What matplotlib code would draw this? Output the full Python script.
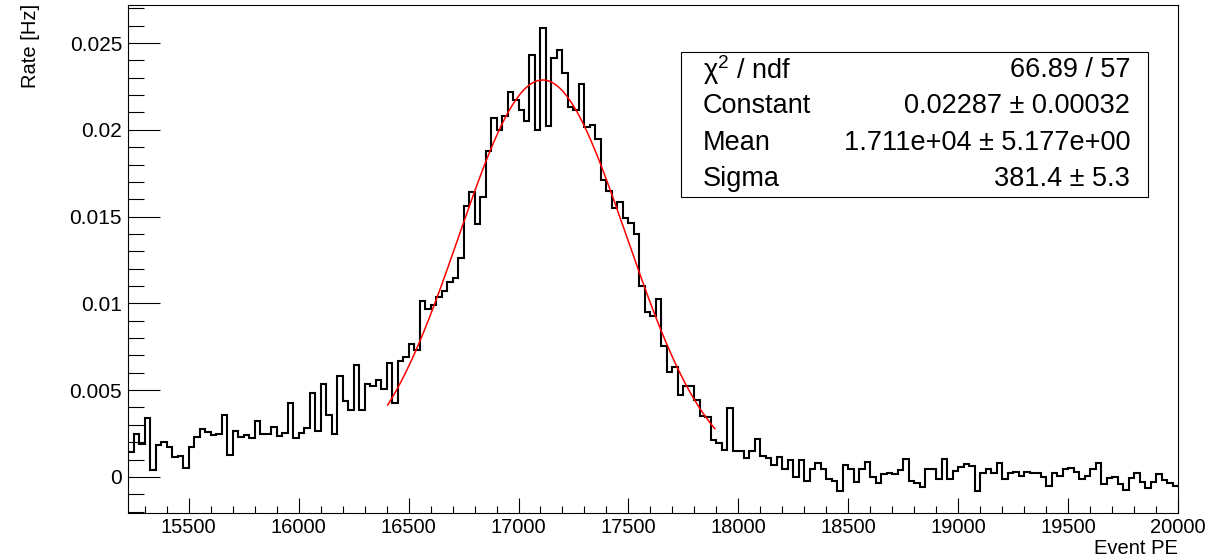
import numpy as np
import matplotlib
matplotlib.use('Agg')
from matplotlib import pyplot as plt
from matplotlib.ticker import MultipleLocator, FuncFormatter
from matplotlib.patches import Rectangle

# histogram binning (Event PE)
bin_lo = 15225
bin_width = 25

# rate per bin [Hz]
rate = [
    0.00146, 0.00248, 0.00188, 0.00338, 0.00040, 0.00185, 0.00204, 0.00171, 0.00113, 0.00121,
    0.00050, 0.00171, 0.00229, 0.00275, 0.00258, 0.00242, 0.00248, 0.00358, 0.00125, 0.00267,
    0.00229, 0.00242, 0.00227, 0.00323, 0.00246, 0.00246, 0.00290, 0.00233, 0.00252, 0.00425,
    0.00223, 0.00252, 0.00281, 0.00483, 0.00265, 0.00535, 0.00358, 0.00248, 0.00584, 0.00438,
    0.00383, 0.00642, 0.00386, 0.00535, 0.00521, 0.00559, 0.00506, 0.00659, 0.00425, 0.00669,
    0.00690, 0.00767, 0.00729, 0.01011, 0.00969, 0.00988, 0.01036, 0.01069, 0.01123, 0.01149,
    0.01259, 0.01559, 0.01640, 0.01459, 0.01611, 0.01880, 0.02069, 0.01997, 0.02082, 0.02216,
    0.02174, 0.02113, 0.02049, 0.02430, 0.02001, 0.02584, 0.02020, 0.02415, 0.02457, 0.02328,
    0.02132, 0.02117, 0.02266, 0.02017, 0.02026, 0.01947, 0.01713, 0.01645, 0.01550, 0.01584,
    0.01492, 0.01463, 0.01401, 0.01098, 0.00953, 0.00928, 0.01025, 0.00752, 0.00602, 0.00636,
    0.00473, 0.00525, 0.00525, 0.00444, 0.00352, 0.00348, 0.00213, 0.00194, 0.00156, 0.00396,
    0.00152, 0.00152, 0.00108, 0.00152, 0.00217, 0.00121, 0.00108, 0.00069, 0.00117, 0.00044,
    0.00098, 0.00002, 0.00098, -0.00021, 0.00044, 0.00083, 0.00044, -0.00013, -0.00021, -0.00079,
    0.00069, 0.00044, -0.00027, 0.00044, 0.00088, 0.00002, -0.00036, 0.00017, 0.00021, 0.00015,
    0.00042, 0.00102, -0.00023, -0.00037, -0.00056, 0.00046, 0.00046, -0.00012, 0.00102, -0.00013,
    0.00035, 0.00060, 0.00073, 0.00065, -0.00079, 0.00021, 0.00046, 0.00021, 0.00079, -0.00013,
    0.00021, 0.00027, 0.00006, 0.00027, 0.00021, 0.00021, -0.00002, -0.00052, 0.00021, 0.00006,
    0.00044, 0.00054, 0.00031, -0.00013, 0.00006, 0.00044, 0.00079, -0.00042, -0.00008, 0.00002,
    -0.00042, -0.00075, -0.00008, 0.00021, -0.00031, -0.00062, -0.00031, 0.00015, -0.00017, -0.00033,
    -0.00050,
]

# gaussian fit result, as printed in the stat box
fit_const = 0.02287
fit_mean = 17110.0
fit_sigma = 381.4
fit_range = (16405, 17893)

stat_names = [r'$\chi^{2}$ / ndf', 'Constant', 'Mean', 'Sigma']
stat_values = ['66.89 / 57', '0.02287 ± 0.00032', '1.711e+04 ± 5.177e+00', '381.4 ± 5.3']

W, H = 1209, 559
FONT = ['Liberation Sans', 'DejaVu Sans']
plt.rcParams['font.family'] = FONT
plt.rcParams['mathtext.fontset'] = 'custom'
plt.rcParams['mathtext.rm'] = 'Liberation Sans'
plt.rcParams['mathtext.it'] = 'Liberation Sans'
plt.rcParams['mathtext.default'] = 'regular'


def px(x, y):
    """pixel position -> figure fraction"""
    return x / W, 1 - y / H


fig = plt.figure(figsize=(W / 100, H / 100), dpi=100)
left, right, top, bottom = 128.3, 1178, 4.5, 512.5
ax = fig.add_axes([left / W, 1 - bottom / H, (right - left) / W, (bottom - top) / H])

edges = bin_lo + bin_width * np.arange(len(rate) + 1)
ax.stairs(rate, edges, baseline=None, color='black', linewidth=1.5)

xf = np.linspace(fit_range[0], fit_range[1], 300)
yf = fit_const * np.exp(-0.5 * ((xf - fit_mean) / fit_sigma) ** 2)
ax.plot(xf, yf, color='#ff0000', linewidth=1.1)

ax.set_xlim(edges[0], edges[-1])
ax.set_ylim(-0.00205, 0.02722)

ax.xaxis.set_major_locator(MultipleLocator(500))
ax.xaxis.set_minor_locator(MultipleLocator(100))
ax.yaxis.set_major_locator(MultipleLocator(0.005))
ax.yaxis.set_minor_locator(MultipleLocator(0.001))
ax.yaxis.set_major_formatter(FuncFormatter(lambda v, p: '%g' % round(v, 4)))

ax.tick_params(axis='y', which='major', direction='in', length=23, width=0.8, pad=4.5, labelsize=15)
ax.tick_params(axis='y', which='minor', direction='in', length=11.5, width=0.8)
ax.tick_params(axis='x', which='major', direction='in', length=10.8, width=0.8, pad=4, labelsize=14.5)
ax.tick_params(axis='x', which='minor', direction='in', length=5, width=0.8)
for s in ax.spines.values():
    s.set_linewidth(0.8)

# axis titles, ROOT style (aligned to the axis ends)
fig.text(*px(31, 4), 'Rate [Hz]', rotation=90, ha='center', va='top', fontsize=14.5)
fig.text(*px(1178, 549), 'Event PE', ha='right', va='center', fontsize=14.5)

# stat box
bx0, by0, bx1, by1 = 681, 52, 1148, 197
fig.patches.append(Rectangle(px(bx0, by1), (bx1 - bx0) / W, (by1 - by0) / H,
                             transform=fig.transFigure, facecolor='white',
                             edgecolor='black', linewidth=0.8, zorder=5))
row_h = (by1 - by0) / len(stat_names)
for i, (name, val) in enumerate(zip(stat_names, stat_values)):
    yc = by0 + row_h * (i + 0.5)
    fig.text(*px(703, yc), name, ha='left', va='center', fontsize=19.5, zorder=6)
    fig.text(*px(1130, yc), val, ha='right', va='center', fontsize=19.5, zorder=6)

fig.savefig('out.png', dpi=100)
